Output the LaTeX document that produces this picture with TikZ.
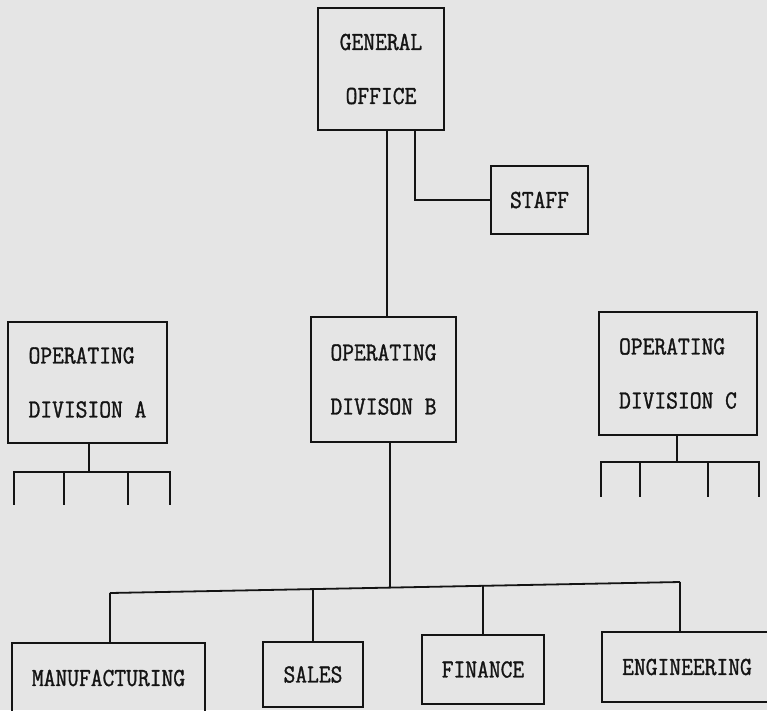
\documentclass[tikz,border=0pt]{standalone}
\usepackage{fontspec}
\newfontfamily\typew{Latin Modern Mono}[FakeBold=1.2, FakeStretch=0.88]
\definecolor{paper}{RGB}{229,229,229}
\definecolor{ink}{RGB}{20,20,20}
\begin{document}
\begin{tikzpicture}[x=1pt,y=-1pt,
  box/.style={draw=ink, line width=1.8pt, inner sep=0pt, text=ink,
    font=\typew\fontsize{26}{27}\selectfont},
  conn/.style={draw=ink, line width=1.8pt}]
\useasboundingbox (0,0) rectangle (767,710);
\fill[paper] (0,0) rectangle (767,710);
\clip (0,0) rectangle (767,710);

% boxes
\node[box, minimum width=126pt, minimum height=122pt, align=center] (GO) at (381,69) {GENERAL\\[27pt]OFFICE};
\node[box, minimum width=97pt, minimum height=68pt] (STAFF) at (539.5,200) {STAFF};
\node[box, minimum width=159pt, minimum height=121pt, align=left] (A) at (87.5,382.5) {OPERATING\\[27pt]DIVISION A};
\node[box, minimum width=145pt, minimum height=125pt, align=center] (B) at (383.5,379.5) {OPERATING\\[27pt]DIVISON B};
\node[box, minimum width=158pt, minimum height=123pt, align=left] (C) at (678,373.5) {OPERATING\\[27pt]DIVISION C};
\node[box, minimum width=193pt, minimum height=70pt] (MAN) at (108.5,678) {MANUFACTURING};
\node[box, minimum width=100pt, minimum height=65pt] (SALES) at (313,674.5) {SALES};
\node[box, minimum width=122pt, minimum height=69pt] (FIN) at (483,669.5) {FINANCE};
\node[box, minimum width=170pt, minimum height=70pt] (ENG) at (687,667) {ENGINEERING};

% general office to division B and staff
\draw[conn] ([xshift=6pt]GO.south) -- ([xshift=6pt]GO.south |- B.north);
\draw[conn] ([xshift=34pt]GO.south) |- (STAFF.west);

% division B to functional departments
\coordinate (j1) at (110,593);
\coordinate (j2) at (313,589);
\coordinate (jB) at (390,587.6);
\coordinate (j3) at (483,585.8);
\coordinate (j4) at (680,582);
\draw[conn] ([xshift=6.5pt]B.south) -- (jB);
\draw[conn] (j1) -- (j4);
\draw[conn] (j1) -- (j1 |- MAN.north);
\draw[conn] (j2) -- (j2 |- SALES.north);
\draw[conn] (j3) -- (j3 |- FIN.north);
\draw[conn] (j4) -- (j4 |- ENG.north);

% division A sub-units
\coordinate (a0) at (89,472);
\draw[conn] (A.south -| a0) -- (a0);
\coordinate (aL) at (13,472);
\coordinate (aR) at (171,472);
\draw[conn] (aL) -- (aR);
\coordinate (a1) at (14,505);
\coordinate (a2) at (64,505);
\coordinate (a3) at (128,505);
\coordinate (a4) at (170,505);
\draw[conn] (a1 |- aL) -- (a1);
\draw[conn] (a2 |- aL) -- (a2);
\draw[conn] (a3 |- aL) -- (a3);
\draw[conn] (a4 |- aL) -- (a4);

% division C sub-units
\coordinate (c0) at (677,462);
\draw[conn] (C.south -| c0) -- (c0);
\coordinate (cL) at (600,462);
\coordinate (cR) at (760,462);
\draw[conn] (cL) -- (cR);
\coordinate (c1) at (601,497);
\coordinate (c2) at (640,497);
\coordinate (c3) at (708,497);
\coordinate (c4) at (759,497);
\draw[conn] (c1 |- cL) -- (c1);
\draw[conn] (c2 |- cL) -- (c2);
\draw[conn] (c3 |- cL) -- (c3);
\draw[conn] (c4 |- cL) -- (c4);
\end{tikzpicture}
\end{document}
